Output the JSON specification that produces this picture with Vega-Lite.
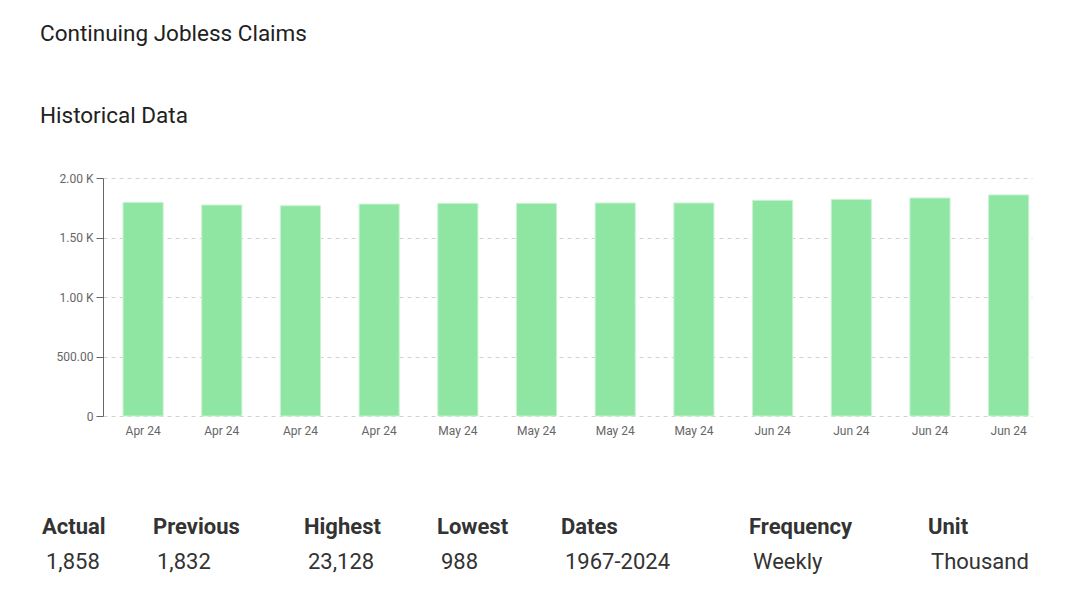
{
  "$schema": "https://vega.github.io/schema/vega-lite/v6.json",
  "padding": {"left": 40, "top": 23, "right": 10, "bottom": 10},
  "background": "white",
  "config": {"font": "Roboto", "view": {"stroke": null}, "concat": {"spacing": 80}},
  "title": {
    "text": "Continuing Jobless Claims",
    "subtitle": "Historical Data",
    "anchor": "start",
    "font": "Roboto",
    "fontSize": 22.5,
    "fontWeight": "normal",
    "color": "#212121",
    "subtitleFont": "Roboto",
    "subtitleFontSize": 22.5,
    "subtitleColor": "#212121",
    "subtitlePadding": 59,
    "offset": 45
  },
  "datasets": {
    "weekly": [
      {"week": "2024-04-06", "claims": 1795},
      {"week": "2024-04-13", "claims": 1773},
      {"week": "2024-04-20", "claims": 1767},
      {"week": "2024-04-27", "claims": 1781},
      {"week": "2024-05-04", "claims": 1787},
      {"week": "2024-05-11", "claims": 1787},
      {"week": "2024-05-18", "claims": 1790},
      {"week": "2024-05-25", "claims": 1790},
      {"week": "2024-06-01", "claims": 1812},
      {"week": "2024-06-08", "claims": 1820},
      {"week": "2024-06-15", "claims": 1832},
      {"week": "2024-06-22", "claims": 1858}
    ],
    "stats": [
      {"metric": "Actual", "figure": "1,858"},
      {"metric": "Previous", "figure": "1,832"},
      {"metric": "Highest", "figure": "23,128"},
      {"metric": "Lowest", "figure": "988"},
      {"metric": "Dates", "figure": "1967-2024"},
      {"metric": "Frequency", "figure": "Weekly"},
      {"metric": "Unit", "figure": "Thousand"}
    ]
  },
  "vconcat": [
    {
      "width": 929,
      "height": 238,
      "data": {"name": "weekly"},
      "mark": {"type": "bar", "color": "#8EE6A2", "stroke": "#c9f3d3", "strokeWidth": 1},
      "encoding": {
        "x": {
          "field": "week",
          "type": "ordinal",
          "sort": null,
          "scale": {"paddingInner": 0.49, "paddingOuter": 0.148, "align": 0.86},
          "axis": {
            "title": null,
            "labelExpr": "utcFormat(toDate(datum.value), '%b %y')",
            "labelAngle": 0,
            "ticks": false,
            "domain": false,
            "grid": false,
            "labelPadding": 9,
            "labelFontSize": 12,
            "labelColor": "#666666"
          }
        },
        "y": {
          "field": "claims",
          "type": "quantitative",
          "scale": {"domain": [0, 2000], "nice": false},
          "axis": {
            "title": null,
            "values": [0, 500, 1000, 1500, 2000],
            "labelExpr": "datum.value == 0 ? '0' : (datum.value >= 1000 ? format(datum.value / 1000, '.2f') + ' K' : format(datum.value, '.2f'))",
            "grid": true,
            "gridDash": [4, 4],
            "gridColor": "#d0d0d0",
            "domainColor": "#666666",
            "tickColor": "#666666",
            "tickSize": 7,
            "labelPadding": 3,
            "labelFontSize": 12,
            "labelColor": "#666666",
            "minExtent": 63
          }
        }
      }
    },
    {
      "data": {"name": "stats"},
      "transform": [{"fold": ["metric", "figure"], "as": ["kind", "text"]}],
      "spacing": 0,
      "bounds": "flush",
      "hconcat": [
        {
          "width": 111, "height": 35,
          "transform": [{"filter": "datum.metric == 'Actual'"}],
          "encoding": {
            "x": {"field": "metric", "type": "nominal", "scale": {"type": "point", "padding": 0, "align": 0}, "axis": null},
            "y": {"field": "kind", "type": "nominal", "scale": {"type": "point", "domain": ["metric", "figure"], "padding": 0}, "axis": null},
            "text": {"field": "text"}
          },
          "layer": [
            {"transform": [{"filter": "datum.kind == 'metric'"}], "mark": {"type": "text", "align": "left", "baseline": "middle", "fontSize": 22, "fontWeight": "bold", "dx": -61, "color": "#333333"}},
            {"transform": [{"filter": "datum.kind == 'figure'"}], "mark": {"type": "text", "align": "left", "baseline": "middle", "fontSize": 22, "dx": -57, "color": "#333333"}}
          ]
        },
        {
          "width": 151, "height": 35,
          "transform": [{"filter": "datum.metric == 'Previous'"}],
          "encoding": {
            "x": {"field": "metric", "type": "nominal", "scale": {"type": "point", "padding": 0, "align": 0}, "axis": null},
            "y": {"field": "kind", "type": "nominal", "scale": {"type": "point", "domain": ["metric", "figure"], "padding": 0}, "axis": null},
            "text": {"field": "text"}
          },
          "layer": [
            {"transform": [{"filter": "datum.kind == 'metric'"}], "mark": {"type": "text", "align": "left", "baseline": "middle", "fontSize": 22, "fontWeight": "bold", "dx": -61, "color": "#333333"}},
            {"transform": [{"filter": "datum.kind == 'figure'"}], "mark": {"type": "text", "align": "left", "baseline": "middle", "fontSize": 22, "dx": -57, "color": "#333333"}}
          ]
        },
        {
          "width": 133, "height": 35,
          "transform": [{"filter": "datum.metric == 'Highest'"}],
          "encoding": {
            "x": {"field": "metric", "type": "nominal", "scale": {"type": "point", "padding": 0, "align": 0}, "axis": null},
            "y": {"field": "kind", "type": "nominal", "scale": {"type": "point", "domain": ["metric", "figure"], "padding": 0}, "axis": null},
            "text": {"field": "text"}
          },
          "layer": [
            {"transform": [{"filter": "datum.kind == 'metric'"}], "mark": {"type": "text", "align": "left", "baseline": "middle", "fontSize": 22, "fontWeight": "bold", "dx": -61, "color": "#333333"}},
            {"transform": [{"filter": "datum.kind == 'figure'"}], "mark": {"type": "text", "align": "left", "baseline": "middle", "fontSize": 22, "dx": -57, "color": "#333333"}}
          ]
        },
        {
          "width": 124, "height": 35,
          "transform": [{"filter": "datum.metric == 'Lowest'"}],
          "encoding": {
            "x": {"field": "metric", "type": "nominal", "scale": {"type": "point", "padding": 0, "align": 0}, "axis": null},
            "y": {"field": "kind", "type": "nominal", "scale": {"type": "point", "domain": ["metric", "figure"], "padding": 0}, "axis": null},
            "text": {"field": "text"}
          },
          "layer": [
            {"transform": [{"filter": "datum.kind == 'metric'"}], "mark": {"type": "text", "align": "left", "baseline": "middle", "fontSize": 22, "fontWeight": "bold", "dx": -61, "color": "#333333"}},
            {"transform": [{"filter": "datum.kind == 'figure'"}], "mark": {"type": "text", "align": "left", "baseline": "middle", "fontSize": 22, "dx": -57, "color": "#333333"}}
          ]
        },
        {
          "width": 188, "height": 35,
          "transform": [{"filter": "datum.metric == 'Dates'"}],
          "encoding": {
            "x": {"field": "metric", "type": "nominal", "scale": {"type": "point", "padding": 0, "align": 0}, "axis": null},
            "y": {"field": "kind", "type": "nominal", "scale": {"type": "point", "domain": ["metric", "figure"], "padding": 0}, "axis": null},
            "text": {"field": "text"}
          },
          "layer": [
            {"transform": [{"filter": "datum.kind == 'metric'"}], "mark": {"type": "text", "align": "left", "baseline": "middle", "fontSize": 22, "fontWeight": "bold", "dx": -61, "color": "#333333"}},
            {"transform": [{"filter": "datum.kind == 'figure'"}], "mark": {"type": "text", "align": "left", "baseline": "middle", "fontSize": 22, "dx": -57, "color": "#333333"}}
          ]
        },
        {
          "width": 179, "height": 35,
          "transform": [{"filter": "datum.metric == 'Frequency'"}],
          "encoding": {
            "x": {"field": "metric", "type": "nominal", "scale": {"type": "point", "padding": 0, "align": 0}, "axis": null},
            "y": {"field": "kind", "type": "nominal", "scale": {"type": "point", "domain": ["metric", "figure"], "padding": 0}, "axis": null},
            "text": {"field": "text"}
          },
          "layer": [
            {"transform": [{"filter": "datum.kind == 'metric'"}], "mark": {"type": "text", "align": "left", "baseline": "middle", "fontSize": 22, "fontWeight": "bold", "dx": -61, "color": "#333333"}},
            {"transform": [{"filter": "datum.kind == 'figure'"}], "mark": {"type": "text", "align": "left", "baseline": "middle", "fontSize": 22, "dx": -57, "color": "#333333"}}
          ]
        },
        {
          "width": 110, "height": 35,
          "transform": [{"filter": "datum.metric == 'Unit'"}],
          "encoding": {
            "x": {"field": "metric", "type": "nominal", "scale": {"type": "point", "padding": 0, "align": 0}, "axis": null},
            "y": {"field": "kind", "type": "nominal", "scale": {"type": "point", "domain": ["metric", "figure"], "padding": 0}, "axis": null},
            "text": {"field": "text"}
          },
          "layer": [
            {"transform": [{"filter": "datum.kind == 'metric'"}], "mark": {"type": "text", "align": "left", "baseline": "middle", "fontSize": 22, "fontWeight": "bold", "dx": -61, "color": "#333333"}},
            {"transform": [{"filter": "datum.kind == 'figure'"}], "mark": {"type": "text", "align": "left", "baseline": "middle", "fontSize": 22, "dx": -58, "color": "#333333"}}
          ]
        }
      ]
    }
  ]
}
